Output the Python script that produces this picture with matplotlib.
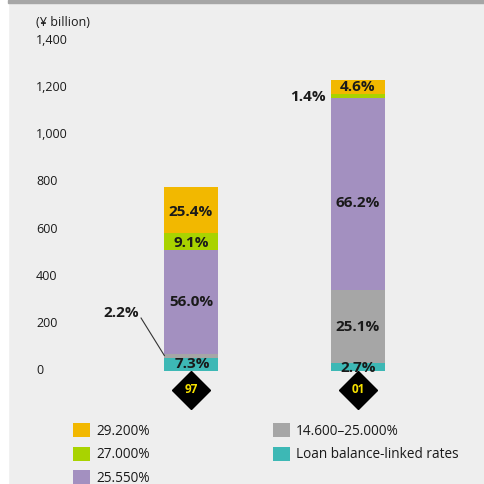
import matplotlib
matplotlib.use("Agg")
import matplotlib.pyplot as plt
from matplotlib.patches import Rectangle, Patch

plt.rcParams['font.family'] = ['Open Sans', 'DejaVu Sans']

# ---- data ----
years = ["97", "01"]
series = ["Loan balance-linked rates", "14.600\u201325.000%", "25.550%", "27.000%", "29.200%"]
loan_linked = [57, 33]
rate_146_250 = [17, 309]
rate_2555 = [437, 814]
rate_2700 = [71, 17]
rate_2920 = [198, 57]
pct_labels = {
    "Loan balance-linked rates": ["7.3%", "2.7%"],
    "14.600\u201325.000%": ["2.2%", "25.1%"],
    "25.550%": ["56.0%", "66.2%"],
    "27.000%": ["9.1%", "1.4%"],
    "29.200%": ["25.4%", "4.6%"],
}
yticks = [0, 200, 400, 600, 800, 1000, 1200, 1400]
ytick_labels = ["0", "200", "400", "600", "800", "1,000", "1,200", "1,400"]
unit_label = "(\u00a5 billion)"

colors = {
    "Loan balance-linked rates": "#3DB8B5",
    "14.600\u201325.000%": "#A6A6A6",
    "25.550%": "#A390C0",
    "27.000%": "#A9D300",
    "29.200%": "#F2B800",
}
values = {
    "Loan balance-linked rates": loan_linked,
    "14.600\u201325.000%": rate_146_250,
    "25.550%": rate_2555,
    "27.000%": rate_2700,
    "29.200%": rate_2920,
}

W, H = 485, 484
fig = plt.figure(figsize=(W / 100, H / 100), dpi=100)
fig.patch.set_facecolor("#EEEEEE")
fig.patches.append(Rectangle((0, 0), 8 / W, 1, transform=fig.transFigure, color="white", zorder=0))
fig.patches.append(Rectangle((8 / W, 1 - 3 / H), 1, 3 / H, transform=fig.transFigure, color="#A6A6A6", zorder=0))

y0_px, y1400_px = 371, 40
bottom = (H - y0_px) / H
height = (y0_px - y1400_px) / H
ax = fig.add_axes([0, bottom, 1, height])
ax.set_facecolor("none")
ax.set_ylim(0, 1400)
c0, c1 = 191, 358
unit = c1 - c0
ax.set_xlim(-c0 / unit, (W - c0) / unit)
for s in ax.spines.values():
    s.set_visible(False)
ax.set_xticks([])
ax.set_yticks([])

x = [0, 1]
bw = 54 / unit
txtc = "#1A1A1A"

cum = [0, 0]
seg_centers = {}
for name in series:
    v = values[name]
    ax.bar(x, v, bottom=cum, width=bw, color=colors[name], linewidth=0, zorder=2)
    seg_centers[name] = [cum[i] + v[i] / 2 for i in range(2)]
    cum = [cum[i] + v[i] for i in range(2)]

lab_kw = dict(ha="center", va="center", fontsize=11, fontweight="bold", color=txtc, zorder=3)
inside = [
    ("Loan balance-linked rates", 0, 0.01, 0), ("Loan balance-linked rates", 1, 0, -3),
    ("25.550%", 0, 0, 0), ("25.550%", 1, 0, -40),
    ("14.600\u201325.000%", 1, 0, 0),
    ("27.000%", 0, 0, -6),
    ("29.200%", 0, 0, -10), ("29.200%", 1, 0, 0),
]
for name, i, dx, dy in inside:
    ax.text(x[i] + dx, seg_centers[name][i] + dy, pct_labels[name][i], **lab_kw)

# outside labels with leader
ax.text(-0.42, 245, pct_labels["14.600\u201325.000%"][0], ha="center", va="center",
        fontsize=11, fontweight="bold", color=txtc)
ax.plot([-0.299, -bw / 2 + 0.002], [224, seg_centers["14.600\u201325.000%"][0]],
        color="#333333", lw=0.8, zorder=3)
ax.text(1 - bw / 2 - 0.03, 1158, pct_labels["27.000%"][1],
        ha="right", va="center", fontsize=11, fontweight="bold", color=txtc)

# y tick labels
trans = ax.get_yaxis_transform()
for t, l in zip(yticks, ytick_labels):
    ax.text(36 / W, t, l, transform=trans, ha="left", va="center", fontsize=9, color=txtc)
ax.text(36 / W, 1400 + 76, unit_label, transform=trans, ha="left", va="center",
        fontsize=9, color=txtc, clip_on=False)

# year diamonds
ax.plot(x, [-80, -80], "D", ms=19, color="black", clip_on=False, zorder=4)
for i, yv in enumerate(years):
    ax.text(x[i], -80, yv, ha="center", va="center", fontsize=8.5, fontweight="bold",
            color="#F5E000", zorder=5, clip_on=False)

# legend (two columns)
leg_kw = dict(loc="upper left", frameon=False, fontsize=9.8, handlelength=1.24, handleheight=1.24,
              handletextpad=0.45, labelspacing=0.58, borderpad=0, borderaxespad=0, labelcolor=txtc)
col1 = ["29.200%", "27.000%", "25.550%"]
col2 = ["14.600\u201325.000%", "Loan balance-linked rates"]
fig.legend([Patch(facecolor=colors[n], edgecolor="none") for n in col1], col1,
           bbox_to_anchor=(73 / W, 1 - 423 / H), **leg_kw)
fig.legend([Patch(facecolor=colors[n], edgecolor="none") for n in col2], col2,
           bbox_to_anchor=(273 / W, 1 - 423 / H), **leg_kw)

fig.savefig("out.png", dpi=100, facecolor=fig.get_facecolor())
